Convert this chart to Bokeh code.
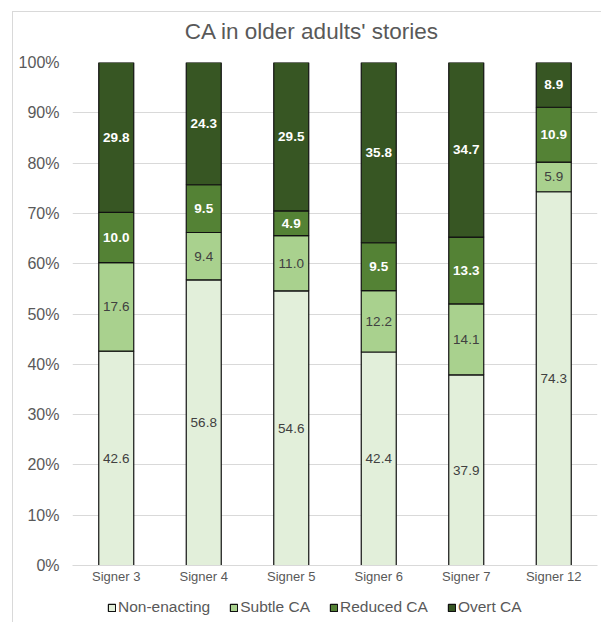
from bokeh.plotting import figure
from bokeh.layouts import column
from bokeh.models import ColumnDataSource, FactorRange, Legend, LegendItem, FixedTicker, CustomJSTickFormatter
from bokeh.core.properties import value
from bokeh.embed import file_html
from bokeh.resources import INLINE

# ---- data ----
title = "CA in older adults' stories"
signers = ["Signer 3", "Signer 4", "Signer 5", "Signer 6", "Signer 7", "Signer 12"]
series_names = ["Non-enacting", "Subtle CA", "Reduced CA", "Overt CA"]
non_enacting = [42.6, 56.8, 54.6, 42.4, 37.9, 74.3]
subtle_ca = [17.6, 9.4, 11.0, 12.2, 14.1, 5.9]
reduced_ca = [10.0, 9.5, 4.9, 9.5, 13.3, 10.9]
overt_ca = [29.8, 24.3, 29.5, 35.8, 34.7, 8.9]
y_ticks = [0, 10, 20, 30, 40, 50, 60, 70, 80, 90, 100]

colors = ["#e2efda", "#a9d18e", "#548235", "#375623"]
label_colors = ["#404040", "#404040", "#ffffff", "#ffffff"]
label_styles = ["normal", "normal", "bold", "bold"]
series = [non_enacting, subtle_ca, reduced_ca, overt_ca]

FONT = "Liberation Sans"
GREY = "#595959"
BL, BR = 59, 4          # left / right borders shared by all strips
FRAME_W = 525

# ---- title strip ----
pt = figure(width=588, height=38, x_range=(0, FRAME_W), y_range=(0, 38), output_backend="svg",
            toolbar_location=None, min_border_left=BL, min_border_right=BR,
            min_border_top=0, min_border_bottom=0)
pt.axis.visible = False
pt.grid.visible = False
pt.outline_line_color = None
pt.text(x=[239.5], y=[19], text=[title], text_align="center", text_baseline="middle",
        text_font=value(FONT), text_font_size="22.5px", text_color=GREY)

# ---- main chart ----
p = figure(x_range=FactorRange(*signers, range_padding=0), y_range=(0, 100),
           width=588, height=537, output_backend="svg", toolbar_location=None,
           min_border_left=BL, min_border_right=BR, min_border_top=12, min_border_bottom=22)
p.outline_line_color = None
p.background_fill_color = "white"
p.border_fill_color = "white"

totals = [sum(s[i] for s in series) for i in range(len(signers))]
bottoms = [0.0] * len(signers)
sources = []
for name, vals, col, lcol, lsty in zip(series_names, series, colors, label_colors, label_styles):
    b = [bottoms[i] for i in range(len(signers))]
    t = [bottoms[i] + vals[i] * 100.0 / totals[i] for i in range(len(signers))]
    mid = [(b[i] + t[i]) / 2 for i in range(len(signers))]
    src = ColumnDataSource(dict(x=signers, bottom=b, top=t, mid=mid,
                                lab=["%.1f" % v for v in vals]))
    sources.append(src)
    p.vbar(x="x", bottom="bottom", top="top", width=0.4, source=src,
           fill_color=col, line_color="#111111", line_width=1.2)
    p.text(x="x", y="mid", text="lab", source=src, text_align="center",
           text_baseline="middle", text_font=value(FONT), text_font_size="13.5px",
           text_font_style=lsty, text_color=lcol)
    bottoms = t

p.yaxis.ticker = FixedTicker(ticks=y_ticks)
p.yaxis.formatter = CustomJSTickFormatter(code="return tick + '%';")
p.yaxis.axis_line_color = None
p.yaxis.major_tick_line_color = None
p.yaxis.minor_tick_line_color = None
p.yaxis.major_tick_out = 0
p.yaxis.major_tick_in = 0
p.yaxis.major_label_standoff = 13
p.yaxis.major_label_text_font = FONT
p.yaxis.major_label_text_font_size = "16px"
p.yaxis.major_label_text_color = GREY

p.xaxis.axis_line_color = "#d9d9d9"
p.xaxis.major_tick_line_color = None
p.xaxis.major_tick_out = 0
p.xaxis.major_tick_in = 0
p.xaxis.major_label_standoff = 3
p.xaxis.major_label_text_font = FONT
p.xaxis.major_label_text_font_size = "13px"
p.xaxis.major_label_text_color = GREY

p.xgrid.grid_line_color = None
p.ygrid.grid_line_color = "#d9d9d9"
p.ygrid.grid_line_width = 1

# ---- legend strip (same series sources, drawn far outside the visible y range) ----
pl = figure(width=588, height=35, x_range=FactorRange(*signers, range_padding=0),
            y_range=(1000, 1001), output_backend="svg", toolbar_location=None,
            min_border_left=BL, min_border_right=BR, min_border_top=0, min_border_bottom=0)
pl.axis.visible = False
pl.grid.visible = False
pl.outline_line_color = None
items = []
for name, col, src in zip(series_names, colors, sources):
    r = pl.vbar(x="x", bottom="bottom", top="top", width=0.4, source=src,
                fill_color=col, line_color="#111111", line_width=1.2)
    items.append(LegendItem(label=name, renderers=[r]))
legend = Legend(items=items, orientation="horizontal", location=(35, 6),
                glyph_width=9, glyph_height=9, label_standoff=2, spacing=19,
                padding=0, margin=0, border_line_color=None, background_fill_alpha=0,
                label_text_font=FONT, label_text_font_size="15.5px", label_text_color=GREY)
pl.add_layout(legend, "center")

layout = column(pt, p, pl, spacing=0)
layout.styles = {"margin-left": "12px", "margin-top": "11px",
                 "border-left": "1px solid #d9d9d9", "border-top": "1px solid #d9d9d9"}

open("out.html", "w").write(file_html(layout, INLINE))
